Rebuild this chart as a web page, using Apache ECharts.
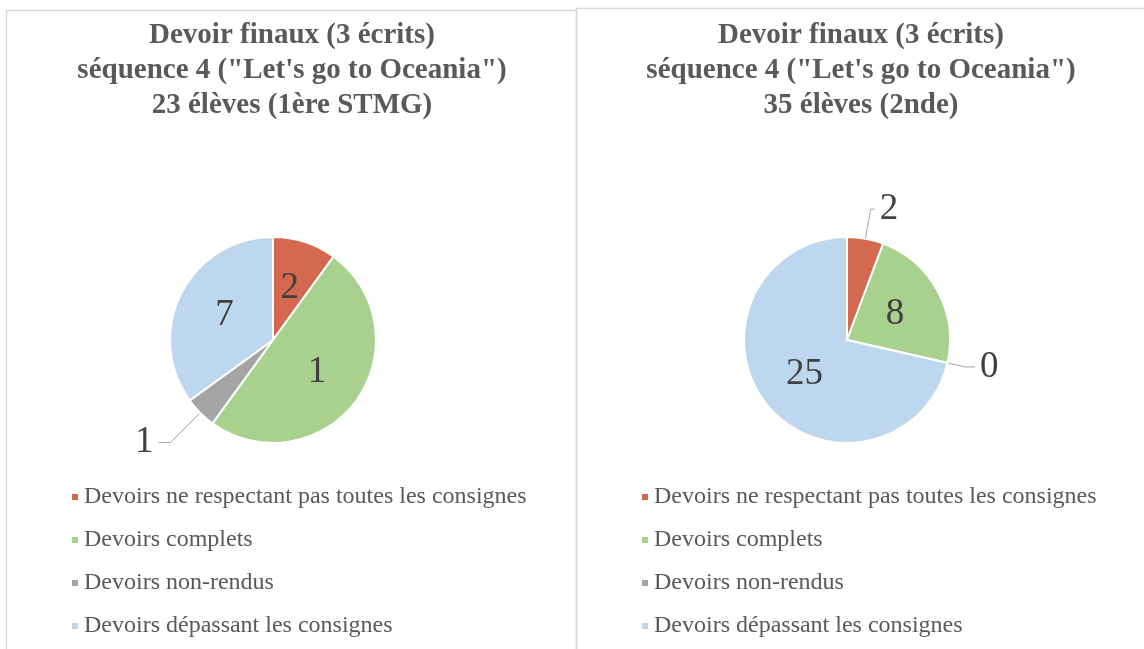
<!DOCTYPE html>
<html>
<head>
<meta charset="utf-8">
<script src="https://cdn.jsdelivr.net/npm/echarts@6/dist/echarts.min.js"></script>
<style>
  html, body { margin: 0; padding: 0; background: #fff; }
  #chart { width: 1144px; height: 649px; }
</style>
</head>
<body>
<div id="chart"></div>
<script>
// data
var categories = [
  "Devoirs ne respectant pas toutes les consignes",
  "Devoirs complets",
  "Devoirs non-rendus",
  "Devoirs dépassant les consignes"
];
var colors = ["#d5694f", "#a9d18e", "#a5a5a5", "#bdd7ee"];

var valuesStmg = [2, 10, 1, 7];
var labelsStmg = ["2", "1", "1", "7"];   // "10" is cut to "1" in the original picture
var posStmg = ["inside", "inside", "outside", "inside"];

var valuesSeconde = [2, 8, 0, 25];
var labelsSeconde = ["2", "8", "0", "25"];
var posSeconde = ["outside", "inside", "outside", "inside"];

var titles = [
  'Devoir finaux (3 écrits)\nséquence 4 ("Let\'s go to Oceania")\n23 élèves (1ère STMG)',
  'Devoir finaux (3 écrits)\nséquence 4 ("Let\'s go to Oceania")\n35 élèves (2nde)'
];

var serif = '"Liberation Serif", "Times New Roman", serif';

function buildData(values, labels, pos, lines) {
  var out = [];
  for (var i = 0; i < values.length; i++) {
    var item = {
      name: categories[i],
      value: values[i],
      itemStyle: { color: colors[i] },
      label: { formatter: labels[i], position: pos[i] }
    };
    if (pos[i] == "outside") {
      item.labelLine = { show: true, length: lines[i][0], length2: lines[i][1] };
    } else {
      item.labelLine = { show: false };
    }
    out.push(item);
  }
  return out;
}

function pieSeries(center, values, labels, pos, lines) {
  return {
    type: "pie",
    center: center,
    radius: 103,
    startAngle: 90,
    clockwise: true,
    avoidLabelOverlap: false,
    animation: false,
    itemStyle: { borderColor: "#fff", borderWidth: 2 },
    label: {
      show: true,
      fontFamily: serif,
      fontSize: 37,
      color: "#404040"
    },
    labelLine: {
      lineStyle: { color: "#a6a6a6", width: 1 }
    },
    emphasis: { disabled: true },
    data: buildData(values, labels, pos, lines)
  };
}

function legendAt(left) {
  return {
    orient: "vertical",
    left: left,
    top: 485,
    padding: 0,
    itemGap: 19,
    itemWidth: 8,
    itemHeight: 8,
    icon: "rect",
    selectedMode: false,
    data: categories,
    textStyle: { fontFamily: serif, fontSize: 24, color: "#595959", lineHeight: 24 }
  };
}

var titleStyle = { fontFamily: serif, fontSize: 29, fontWeight: "bold", color: "#595959", lineHeight: 35 };

var chart = echarts.init(document.getElementById("chart"));
chart.setOption({
  backgroundColor: "#fff",
  graphic: [
    { type: "rect", shape: { x: 6.5, y: 10.5, width: 570, height: 700 },
      style: { fill: null, stroke: "#d9d9d9", lineWidth: 1.5 }, silent: true },
    { type: "rect", shape: { x: 576.5, y: 8.5, width: 600, height: 700 },
      style: { fill: null, stroke: "#d9d9d9", lineWidth: 1.5 }, silent: true }
  ],
  title: [
    { text: titles[0], left: 287, top: 13, textAlign: "center", textStyle: titleStyle },
    { text: titles[1], left: 856, top: 13, textAlign: "center", textStyle: titleStyle }
  ],
  legend: [legendAt(70), legendAt(640)],
  series: [
    pieSeries([273, 340], valuesStmg, labelsStmg, posStmg, [null, null, [42, 12], null]),
    pieSeries([847, 340], valuesSeconde, labelsSeconde, posSeconde, [[30, 4], null, [18, 10], null])
  ]
});
</script>
</body>
</html>
